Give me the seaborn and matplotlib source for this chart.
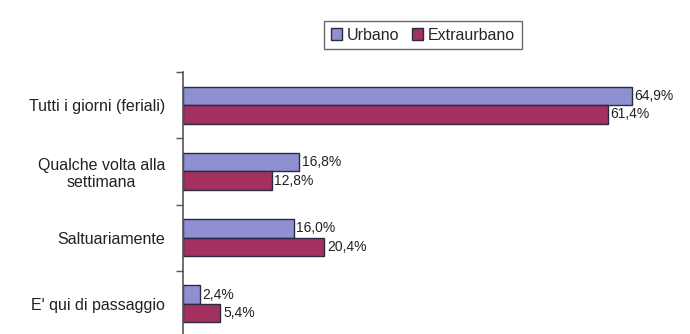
import matplotlib
matplotlib.use("Agg")
import matplotlib.pyplot as plt
import seaborn as sns
import pandas as pd
import numpy as np

categories = ["Tutti i giorni (feriali)", "Qualche volta alla\nsettimana", "Saltuariamente", "E' qui di passaggio"]
urbano = [64.9, 16.8, 16.0, 2.4]
extraurbano = [61.4, 12.8, 20.4, 5.4]
series_names = ["Urbano", "Extraurbano"]
colors = ["#8E90D2", "#A2315F"]

df = pd.DataFrame({
    "cat": categories * 2,
    "val": urbano + extraurbano,
    "serie": [series_names[0]] * 4 + [series_names[1]] * 4,
})

sns.set_style("white")
plt.rcParams["font.family"] = ["Liberation Sans", "DejaVu Sans"]

fig = plt.figure(figsize=(6.9, 3.34), dpi=100)
ax = fig.add_axes([183/690, -3/334, (674-183)/690, 1 - 69/334])

sns.barplot(data=df, y="cat", x="val", hue="serie", order=categories,
            hue_order=series_names, palette=colors, orient="h", width=0.56,
            saturation=1, edgecolor="#2a2a45", linewidth=1.0, ax=ax, legend=True)

ax.set_xlim(0, 71)
ax.set_ylim(3.5, -0.5)
ax.set_xlabel("")
ax.set_ylabel("")
ax.set_xticks([])
ax.tick_params(axis="y", which="major", length=0, pad=13, labelsize=11.5, labelcolor="#222222")
for lab in ax.get_yticklabels():
    lab.set_horizontalalignment("right")
    lab.set_multialignment("center")
ax.set_yticks(np.arange(-0.5, 4.0, 1.0), minor=True)
ax.tick_params(axis="y", which="minor", left=True, length=5, color="#555555", width=1)

for s in ["top", "right", "bottom"]:
    ax.spines[s].set_visible(False)
ax.spines["left"].set_color("#555555")
ax.spines["left"].set_linewidth(1.2)

for container in ax.containers:
    labels = [f"{v:.1f}%".replace(".", ",") for v in container.datavalues]
    ax.bar_label(container, labels=labels, padding=2, fontsize=10, color="#222222")

handles, labs = ax.get_legend_handles_labels()
ax.get_legend().remove()
leg = fig.legend(handles, labs, loc="center", bbox_to_anchor=(423/690, 1 - 35/334),
                 ncol=2, frameon=True, fontsize=11.5, handlelength=0.7, handleheight=0.7,
                 handletextpad=0.3, columnspacing=0.8, borderpad=0.4, fancybox=False)
leg.get_frame().set_edgecolor("#444444")
leg.get_frame().set_linewidth(1.0)

fig.savefig("out.png", dpi=100)
